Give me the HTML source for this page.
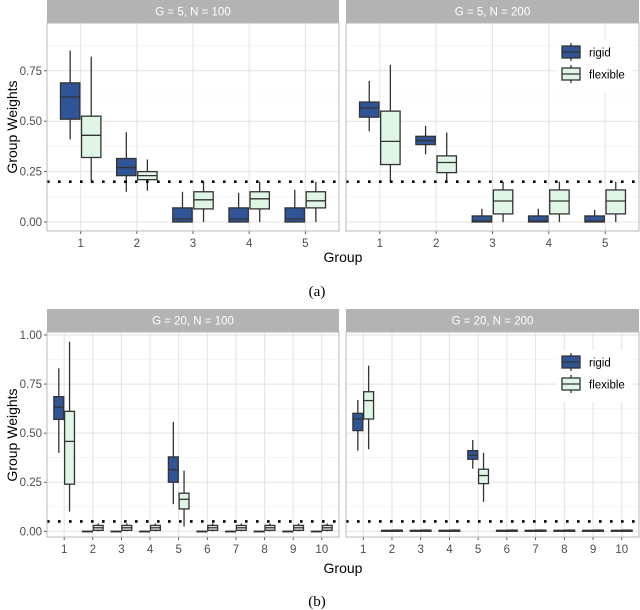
<!DOCTYPE html>
<html><head><meta charset="utf-8"><style>
html,body{margin:0;padding:0;background:#fff;}
svg{display:block;font-family:"Liberation Sans",sans-serif;}
</style></head><body>
<svg id="fig" width="640" height="610" viewBox="0 0 640 610" xmlns="http://www.w3.org/2000/svg"></svg>
<script>
// ---- data: [lowerWhisker, q1, median, q3, upperWhisker] ----
const groupsA = [1,2,3,4,5];
const groupsB = [1,2,3,4,5,6,7,8,9,10];
const yTicks = [0, 0.25, 0.5, 0.75, 1.0];
const yTickLabelsA = ["0.00","0.25","0.50","0.75"];
const yTickLabelsB = ["0.00","0.25","0.50","0.75","1.00"];
const rigidA100 = [[0.41,0.51,0.62,0.69,0.85],[0.15,0.23,0.27,0.315,0.445],[0,0,0.015,0.07,0.15],[0,0,0.015,0.07,0.145],[0,0,0.015,0.07,0.16]];
const flexA100  = [[0.20,0.32,0.43,0.525,0.82],[0.155,0.21,0.23,0.25,0.31],[0,0.065,0.11,0.15,0.2],[0,0.065,0.115,0.15,0.2],[0,0.07,0.105,0.15,0.2]];
const rigidA200 = [[0.45,0.52,0.565,0.595,0.70],[0.336,0.384,0.404,0.425,0.477],[0,0,0.005,0.03,0.066],[0,0,0.005,0.03,0.066],[0,0,0.005,0.03,0.06]];
const flexA200  = [[0.20,0.285,0.40,0.55,0.78],[0.20,0.245,0.295,0.328,0.444],[0,0.04,0.104,0.159,0.2],[0,0.04,0.104,0.159,0.2],[0,0.04,0.104,0.159,0.2]];
const rigidB100 = [[0.40,0.57,0.632,0.686,0.83],[0,0,0,0,0.003],[0,0,0,0,0.003],[0,0,0,0,0.003],[0.138,0.25,0.314,0.379,0.558],[0,0,0,0,0.003],[0,0,0,0,0.003],[0,0,0,0,0.003],[0,0,0,0,0.003],[0,0,0,0,0.003]];
const flexB100  = [[0.10,0.24,0.458,0.611,0.966],[0,0.005,0.018,0.03,0.04],[0,0.005,0.018,0.03,0.04],[0,0.005,0.018,0.03,0.04],[0.024,0.114,0.163,0.194,0.309],[0,0.005,0.018,0.03,0.04],[0,0.005,0.018,0.03,0.04],[0,0.005,0.018,0.03,0.04],[0,0.005,0.018,0.03,0.04],[0,0.005,0.018,0.03,0.04]];
const rigidB200 = [[0.411,0.513,0.572,0.601,0.669],[0,0,0.002,0.005,0.008],[0,0,0.002,0.005,0.008],[0,0,0.002,0.005,0.008],[0.319,0.367,0.387,0.411,0.465],[0,0,0.002,0.005,0.008],[0,0,0.002,0.005,0.008],[0,0,0.002,0.005,0.008],[0,0,0.002,0.005,0.008],[0,0,0.002,0.005,0.008]];
const flexB200  = [[0.418,0.572,0.666,0.711,0.844],[0,0,0.003,0.006,0.01],[0,0,0.003,0.006,0.01],[0,0,0.003,0.006,0.01],[0.15,0.243,0.284,0.316,0.40],[0,0,0.003,0.006,0.01],[0,0,0.003,0.006,0.01],[0,0,0.003,0.006,0.01],[0,0,0.003,0.006,0.01],[0,0,0.003,0.006,0.01]];
const refLineA = 0.2;
const refLineB = 0.05;

const NS="http://www.w3.org/2000/svg";
const svg=document.getElementById('fig');
function mk(tag,attrs,parent){const e=document.createElementNS(NS,tag);for(const k in attrs)e.setAttribute(k,attrs[k]);(parent||svg).appendChild(e);return e;}
const RIGID="#2f5597", FLEX="#dff5e6", EDGE="#333333";

function panel(cfg){
  const g=mk('g',{});
  
  
  const n=cfg.groups.length;
  const sx=(v)=>cfg.x0+(v-0.4)/(n+0.2-0.4+0.0)*(cfg.x1-cfg.x0);
  const sxf=(v)=>cfg.x0+(v-0.4)/(n+0.6-0.4)*(cfg.x1-cfg.x0);
  const sy=(v)=>cfg.yZero-v*cfg.yScale;
  // strip
  const st=mk('rect',{x:cfg.x0,y:cfg.stripTop,width:cfg.x1-cfg.x0,height:cfg.panelTop-cfg.stripTop,fill:"#b3b3b3"},g);
  
  
  const stt=mk('text',{x:(cfg.x0+cfg.x1)/2,y:cfg.stripTop+15.5,'text-anchor':'middle','font-size':11.5,fill:'#fff'},g);
  stt.textContent=cfg.title;
  
  
  // grid
  const ymax=(cfg.panelTop - cfg.yZero)/(-cfg.yScale);
  for(let i=0;i<yTicks.length;i++){
    const t=yTicks[i];
    if(sy(t)>cfg.panelTop) mk('line',{x1:cfg.x0,x2:cfg.x1,y1:sy(t),y2:sy(t),stroke:'#e3e3e3','stroke-width':1},g);
    const m=t+0.125; if(sy(m)>cfg.panelTop) mk('line',{x1:cfg.x0,x2:cfg.x1,y1:sy(m),y2:sy(m),stroke:'#f0f0f0','stroke-width':0.6},g);
  }
  cfg.groups.forEach(gv=>{
    mk('line',{x1:sxf(gv),x2:sxf(gv),y1:cfg.panelTop,y2:cfg.panelBot,stroke:'#e3e3e3','stroke-width':1},g);
    const tl=mk('text',{x:sxf(gv),y:cfg.panelBot+16,'text-anchor':'middle','font-size':11.5,fill:'#4d4d4d'},g);
    tl.textContent=String(gv);
    
    
    mk('line',{x1:sxf(gv),x2:sxf(gv),y1:cfg.panelBot,y2:cfg.panelBot+3,stroke:'#333','stroke-width':0.8},g);
  });
  // y labels
  if(cfg.yLabels){
    cfg.yLabels.forEach((lab,i)=>{
      const t=mk('text',{x:cfg.x0-5,y:sy(yTicks[i])+4,'text-anchor':'end','font-size':11.5,fill:'#4d4d4d'},g);
      t.textContent=lab;
      
      
      mk('line',{x1:cfg.x0-3,x2:cfg.x0,y1:sy(yTicks[i]),y2:sy(yTicks[i]),stroke:'#333','stroke-width':0.8},g);
    });
  }
  // boxes
  const unit=sxf(2)-sxf(1);
  const bw=unit*0.345, off=unit*0.1875;
  function box(d,cx,fill,nm){
    const bg=mk('g',{},g);
    
    
    mk('line',{x1:cx,x2:cx,y1:sy(d[0]),y2:sy(d[1]),stroke:EDGE,'stroke-width':1.3},bg);
    mk('line',{x1:cx,x2:cx,y1:sy(d[3]),y2:sy(d[4]),stroke:EDGE,'stroke-width':1.3},bg);
    mk('rect',{x:cx-bw/2,y:sy(d[3]),width:bw,height:Math.max(sy(d[1])-sy(d[3]),0.5),fill:fill,stroke:EDGE,'stroke-width':1.3},bg);
    mk('line',{x1:cx-bw/2,x2:cx+bw/2,y1:sy(d[2]),y2:sy(d[2]),stroke:EDGE,'stroke-width':1.3},bg);
  }
  cfg.groups.forEach((gv,i)=>{
    box(cfg.rigid[i],sxf(gv)-off,RIGID,'box-rigid-group-'+gv);
    box(cfg.flex[i],sxf(gv)+off,FLEX,'box-flexible-group-'+gv);
  });
  // reference dotted line
  const rl=mk('line',{x1:cfg.x0,x2:cfg.x1,y1:sy(cfg.ref),y2:sy(cfg.ref),stroke:'#000','stroke-width':2.6,'stroke-dasharray':'2.6 8.4'},g);
  
  
  // border
  mk('rect',{x:cfg.x0,y:cfg.panelTop,width:cfg.x1-cfg.x0,height:cfg.panelBot-cfg.panelTop,fill:'none',stroke:'#b8b8b8','stroke-width':1},g);
  // legend
  if(cfg.legend){
    const lg=mk('g',{},g);
    
    
    mk('rect',{x:cfg.legend.x-6,y:cfg.legend.y-12,width:76,height:52,fill:'#fff'},lg);
    [['rigid',RIGID],['flexible',FLEX]].forEach((e,i)=>{
      const ey=cfg.legend.y+i*22;
      const eg=mk('g',{},lg);
      
      
      const cx=cfg.legend.x+9;
      mk('line',{x1:cx,x2:cx,y1:ey-9,y2:ey+9,stroke:EDGE,'stroke-width':1.3},eg);
      mk('rect',{x:cx-9,y:ey-6,width:18,height:12,fill:e[1],stroke:EDGE,'stroke-width':1.3},eg);
      mk('line',{x1:cx-9,x2:cx+9,y1:ey,y2:ey,stroke:EDGE,'stroke-width':1.3},eg);
      const t=mk('text',{x:cfg.legend.x+27,y:ey+4.5,'font-size':11.5,fill:'#000'},eg);
      t.textContent=e[0];
    });
  }
}

panel({name:'panel-g5-n100',title:'G = 5, N = 100',groups:groupsA,x0:47,x1:339,stripTop:0,panelTop:23,panelBot:231,yZero:222,yScale:201.6,yLabels:yTickLabelsA,rigid:rigidA100,flex:flexA100,ref:refLineA});
panel({name:'panel-g5-n200',title:'G = 5, N = 200',groups:groupsA,x0:346,x1:639,stripTop:0,panelTop:23,panelBot:231,yZero:222,yScale:201.6,rigid:rigidA200,flex:flexA200,ref:refLineA,legend:{x:562,y:52}});
panel({name:'panel-g20-n100',title:'G = 20, N = 100',groups:groupsB,x0:47,x1:339,stripTop:309,panelTop:332,panelBot:537,yZero:531.3,yScale:196.3,yLabels:yTickLabelsB,rigid:rigidB100,flex:flexB100,ref:refLineB});
panel({name:'panel-g20-n200',title:'G = 20, N = 200',groups:groupsB,x0:346,x1:639,stripTop:309,panelTop:332,panelBot:537,yZero:531.3,yScale:196.3,rigid:rigidB200,flex:flexB200,ref:refLineB,legend:{x:562,y:362}});

function txt(s,attrs,name){const t=mk('text',attrs);t.textContent=s;return t;}
txt('Group Weights',{x:0,y:0,transform:'translate(17,127) rotate(-90)','text-anchor':'middle','font-size':14,fill:'#000'},'y-axis-title-a');
txt('Group Weights',{x:0,y:0,transform:'translate(17,435) rotate(-90)','text-anchor':'middle','font-size':14,fill:'#000'},'y-axis-title-b');
txt('Group',{x:343,y:262,'text-anchor':'middle','font-size':14,fill:'#000'},'x-axis-title-a');
txt('Group',{x:343,y:573,'text-anchor':'middle','font-size':14,fill:'#000'},'x-axis-title-b');
txt('(a)',{x:317,y:296,'text-anchor':'middle','font-size':15,fill:'#000','font-family':'Liberation Serif, serif'},'caption-a');
txt('(b)',{x:317,y:606,'text-anchor':'middle','font-size':15,fill:'#000','font-family':'Liberation Serif, serif'},'caption-b');
</script>
</body></html>
